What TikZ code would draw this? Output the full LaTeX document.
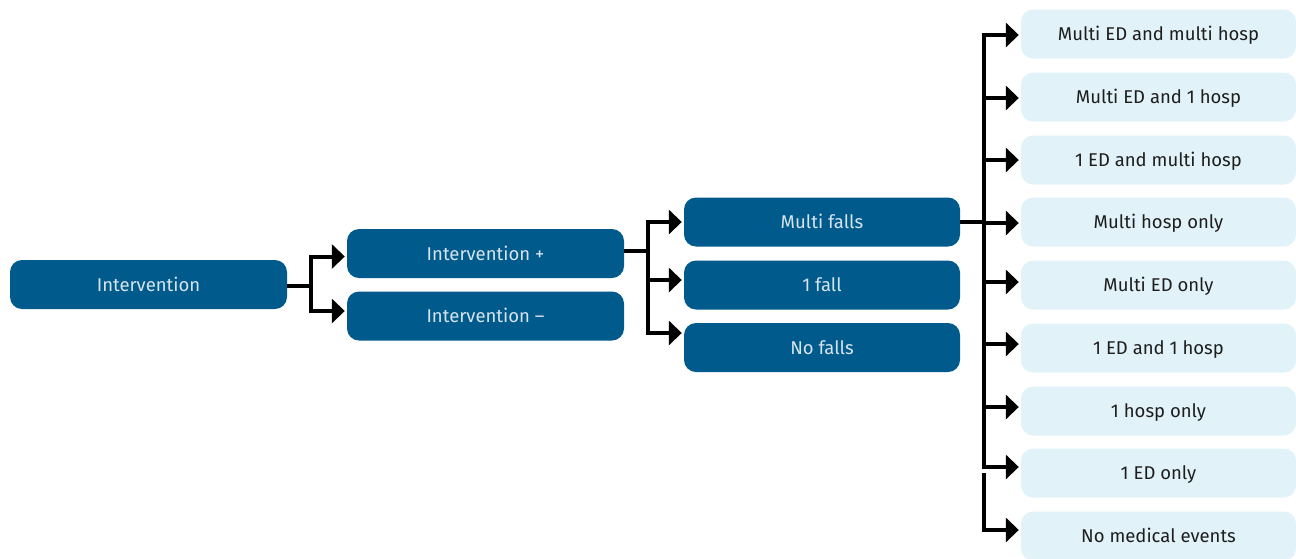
\documentclass[tikz,border=0pt]{standalone}
\usepackage{fontspec}
\setmainfont{Fira Sans}
\usetikzlibrary{arrows.meta}
\definecolor{darkblue}{HTML}{005A8C}
\definecolor{paleblue}{HTML}{E1F3F8}
\definecolor{paletext}{HTML}{D6E4EE}
\definecolor{inkdark}{HTML}{1E1E1E}
\begin{document}
\begin{tikzpicture}[x=1pt,y=-1pt,
  darkbox/.style={rectangle, rounded corners=12pt, fill=darkblue, text=paletext,
    minimum width=277pt, minimum height=49pt, inner sep=0pt,
    text height=13pt, text depth=0pt, font=\fontsize{18.5}{22}\selectfont},
  palebox/.style={darkbox, fill=paleblue, text=inkdark, minimum width=275pt},
  conn/.style={line width=4pt, black},
  arrowline/.style={conn, -{Triangle[length=13pt,width=24pt]}, shorten >=2pt}
]
\useasboundingbox (0,0) rectangle (1296,558);

% first level
\node[darkbox] (root) at (148.5,284.5) {Intervention};

% second level
\node[darkbox] (plus)  at (485.5,253.5) {Intervention +};
\node[darkbox] (minus) at (485.5,316)   {Intervention –};

% falls
\node[darkbox, minimum width=276pt] (multifalls) at (822,222)   {Multi falls};
\node[darkbox, minimum width=276pt] (onefall)    at (822,285)   {1 fall};
\node[darkbox, minimum width=276pt] (nofalls)    at (822,347.5) {No falls};

% medical events
\node[palebox] (e1) at (1158.5,34)  {Multi ED and multi hosp};
\node[palebox] (e2) at (1158.5,97)  {Multi ED and 1 hosp};
\node[palebox] (e3) at (1158.5,160) {1 ED and multi hosp};
\node[palebox] (e4) at (1158.5,222) {Multi hosp only};
\node[palebox] (e5) at (1158.5,285) {Multi ED only};
\node[palebox] (e6) at (1158.5,348) {1 ED and 1 hosp};
\node[palebox] (e7) at (1158.5,411) {1 hosp only};
\node[palebox] (e8) at (1158.5,473) {1 ED only};
\node[palebox] (e9) at (1158.5,536) {No medical events};

% junction points
\coordinate (j1) at (311,286);
\coordinate (j2) at (648,251);
\coordinate (j3) at (984,222);
\coordinate (j3b) at (984,473);

% connectors: root -> intervention arms
\draw[conn] (root.east |- j1) -- (j1);
\draw[arrowline] (j1) |- ([yshift=-3pt]plus.west);
\draw[arrowline] (j1) |- ([yshift=5pt]minus.west);

% connectors: intervention + -> falls
\draw[conn] (plus.east |- j2) -- (j2);
\draw[arrowline] (j2) |- (multifalls.west);
\draw[arrowline] (j2) |- ([yshift=5pt]onefall.west);
\draw[arrowline] (j2) |- ([yshift=14.5pt]nofalls.west);

% connectors: multi falls -> medical events
\draw[conn] (multifalls.east) -- (j3);
\draw[arrowline] (j3) |- ([yshift=-1pt]e1.west);
\draw[arrowline] (j3) |- ([yshift=-1pt]e2.west);
\draw[arrowline] (j3) |- (e3.west);
\draw[arrowline] (j3) |- ([yshift=-1pt]e4.west);
\draw[arrowline] (j3) |- ([yshift=3pt]e5.west);
\draw[arrowline] (j3) |- ([yshift=4pt]e6.west);
\draw[arrowline] (j3) |- ([yshift=4pt]e7.west);
\draw[arrowline] (j3) |- ([yshift=6pt]e8.west);
\draw[arrowline] (j3b) |- ([yshift=6pt]e9.west);
\end{tikzpicture}
\end{document}
